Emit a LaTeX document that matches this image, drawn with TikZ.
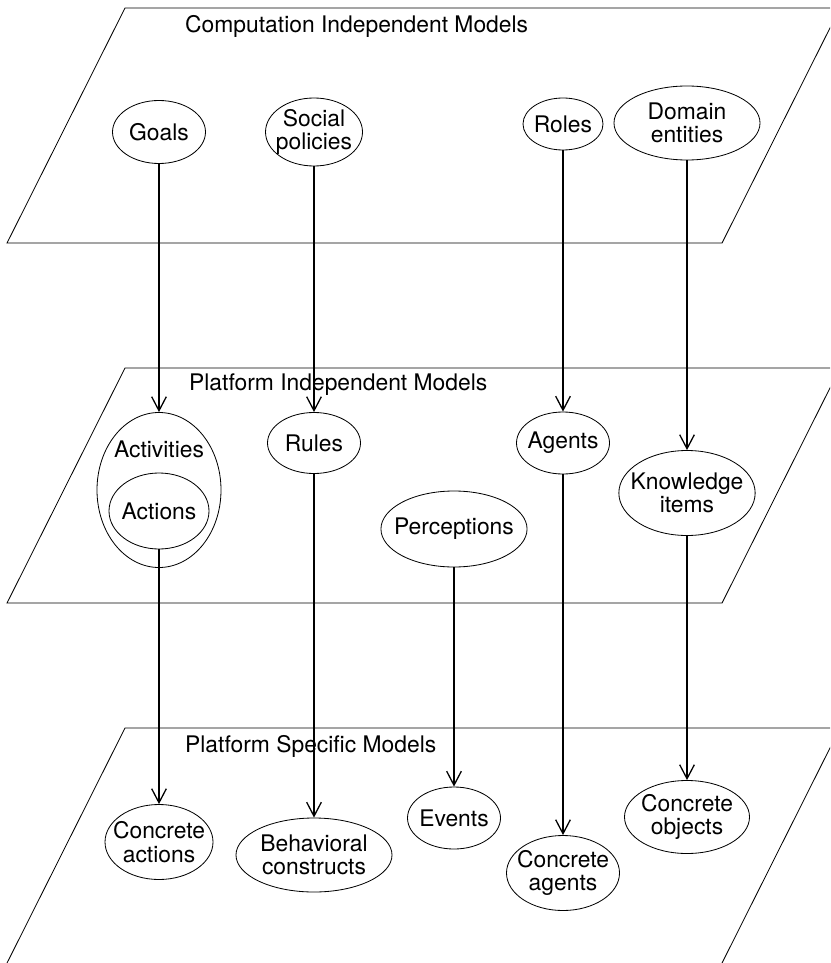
\documentclass[tikz,border=0pt]{standalone}
\usepackage{fontspec}
\setmainfont{TeX Gyre Heros}
\usetikzlibrary{shapes.geometric,arrows.meta,positioning}

\begin{document}
\begin{tikzpicture}[x=0.03cm,y=-0.03cm,
    font=\fontsize{19.5}{20}\selectfont,
    blob/.style 2 args={ellipse,draw,line width=0.7pt,inner sep=-7pt,align=center,
      minimum width=#1cm,minimum height=#2cm},
    plane/.style={draw,line width=0.7pt},
    mapsto/.style={-{Straight Barb[length=0.42cm,width=0.44cm]},line width=1.1pt}]
 \useasboundingbox (0,0) rectangle (830,963);
 \clip (0,0) rectangle (830,963);
 % model layers
 \foreach \y/\d in {8/235,368/235,728/260}
  \draw[plane] (125,\y) -- (840,\y) -- (840-0.502*\d,\y+\d) -- (125-0.502*\d,\y+\d) -- cycle;
 \node[anchor=west] (cim) at (181,26) {Computation Independent Models};
 \node[anchor=west] (pim) at (185,385) {Platform Independent Models};
 \node[anchor=west] (psm) at (181,746) {Platform Specific Models};
 % CIM
 \node[blob={2.79}{1.89}] (goals) at (159,132) {Goals};
 \node[blob={2.91}{2.04}] (social) at (314,132) {Social\\policies};
 \node[blob={2.40}{1.56}] (roles) at (563,124) {Roles};
 \node[blob={4.38}{2.22}] (domain) at (687,123) {Domain\\entities};
 % PIM
 \node[blob={3.72}{4.65}] (activities) at (159,490) {};
 \node (activitiestxt) at (159,449) {Activities};
 \node[blob={3.00}{2.28}] (actions) at (159,511) {Actions};
 \node[blob={2.79}{1.83}] (rules) at (314,443) {Rules};
 \node[blob={4.32}{2.28}] (perceptions) at (454,529) {Perceptions};
 \node[blob={2.79}{1.86}] (agents) at (563,443) {Agents};
 \node[blob={3.93}{2.55}] (knowledge) at (687,493) {Knowledge\\items};
 % PSM
 \node[blob={3.24}{2.25}] (cactions) at (159,842) {Concrete\\actions};
 \node[blob={4.68}{2.22}] (behavioral) at (314,855) {Behavioral\\constructs};
 \node[blob={2.79}{1.86}] (events) at (454,818) {Events};
 \node[blob={3.39}{2.25}] (cagents) at (563,873) {Concrete\\agents};
 \node[blob={3.75}{2.19}] (cobjects) at (687,817) {Concrete\\objects};
 % mappings
 \draw[mapsto] (goals) -- (activities);
 \draw[mapsto] (social) -- (rules);
 \draw[mapsto] (roles) -- (agents);
 \draw[mapsto] (domain) -- (knowledge);
 \draw[mapsto] (actions) -- (cactions);
 \draw[mapsto] (rules) -- (behavioral);
 \draw[mapsto] (perceptions) -- (events);
 \draw[mapsto] (agents) -- (cagents);
 \draw[mapsto] (knowledge) -- (cobjects);
\end{tikzpicture}
\end{document}
